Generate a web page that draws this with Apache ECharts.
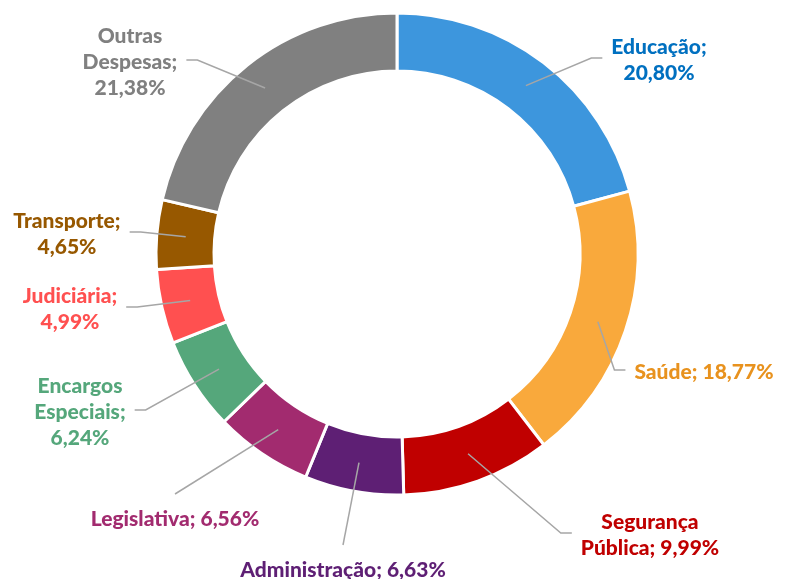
<!DOCTYPE html>
<html>
<head>
    <meta charset="utf-8" />
    <script src="https://cdn.jsdelivr.net/npm/echarts@6.0.0/dist/echarts.min.js"></script>
    <style>
        body { margin: 0; background: #fff; }
        #chart { width: 785px; height: 579px; }
    </style>
</head>
<body>
    <div id="chart"></div>
    <script type="text/javascript">
        // dados do gráfico
        var categorias = ['Educação', 'Saúde', 'Segurança Pública', 'Administração', 'Legislativa',
            'Encargos Especiais', 'Judiciária', 'Transporte', 'Outras Despesas'];
        var percentuais = [20.80, 18.77, 9.99, 6.63, 6.56, 6.24, 4.99, 4.65, 21.38];
        // texto do rótulo (quebras de linha como no original)
        var rotulos = ['Educação;\n20,80%', 'Saúde; 18,77%', 'Segurança\nPública; 9,99%', 'Administração; 6,63%',
            'Legislativa; 6,56%', 'Encargos\nEspeciais;\n6,24%', 'Judiciária;\n4,99%', 'Transporte;\n4,65%',
            'Outras\nDespesas;\n21,38%'];

        var coresFatia = ['#3D96DD', '#F9A93C', '#C00000', '#5E1F74', '#A22B6F', '#55A77B', '#FF5050', '#975800', '#808080'];
        var coresTexto = ['#0070C0', '#E8921E', '#C00000', '#5E1F74', '#A22B6F', '#55A77B', '#FF5050', '#975800', '#808080'];
        // posição (centro do bloco de texto) e lado de ligação de cada rótulo
        var posRotulo = [[659, 60], [704, 372], [650, 535], [343, 570], [175, 519], [80, 412], [70, 309], [67, 234], [130, 62]];
        var ladoRotulo = ['d', 'd', 'd', 'b', 'b', 'e', 'e', 'e', 'e'];

        var cx = 397, cy = 254, rIn = 183, rOut = 241;

        // ângulo médio de cada fatia (sentido horário a partir do topo)
        var total = percentuais.reduce(function (a, b) { return a + b; }, 0);
        var angMedio = [];
        var acum = 0;
        percentuais.forEach(function (v) {
            angMedio.push((acum + v / 2) / total * 2 * Math.PI);
            acum += v;
        });

        var chart = echarts.init(document.getElementById('chart'));
        var tamRotulo = [];

        var dados = categorias.map(function (nome, i) {
            return {
                name: nome,
                value: percentuais[i],
                itemStyle: { color: coresFatia[i] },
                label: { color: coresTexto[i], formatter: rotulos[i] }
            };
        });

        chart.setOption({
            animation: false,
            series: [{
                type: 'pie',
                left: 0,
                top: 0,
                right: -400,
                bottom: 0,
                center: [cx, cy],
                radius: [rIn, rOut],
                startAngle: 90,
                clockwise: true,
                itemStyle: { borderColor: '#fff', borderWidth: 3 },
                label: {
                    show: true,
                    fontFamily: 'Lato',
                    fontWeight: 900,
                    fontSize: 21,
                    lineHeight: 26,
                    align: 'center',
                    overflow: 'none'
                },
                // a linha própria do ECharts fica invisível; as linhas são desenhadas abaixo
                labelLine: { show: true, length: 10, length2: 10, lineStyle: { opacity: 0 } },
                labelLayout: function (p) {
                    var pos = posRotulo[p.dataIndex];
                    tamRotulo[p.dataIndex] = [p.labelRect.width, p.labelRect.height];
                    return { x: pos[0], y: pos[1], align: 'center', verticalAlign: 'middle' };
                },
                data: dados
            }]
        });

        // linhas de ligação: do meio do anel até o rótulo
        var linhas = posRotulo.map(function (pos, i) {
            var w = tamRotulo[i] ? tamRotulo[i][0] : 100;
            var h = tamRotulo[i] ? tamRotulo[i][1] : 26;
            var rm = (rIn + rOut) / 2;
            var ini = [cx + rm * Math.sin(angMedio[i]), cy - rm * Math.cos(angMedio[i])];
            var fim, dobra;
            if (ladoRotulo[i] === 'd') {
                fim = [pos[0] - w / 2 - 9, pos[1] - 2];
                dobra = [fim[0] - 11, fim[1]];
            } else if (ladoRotulo[i] === 'e') {
                fim = [pos[0] + w / 2 + 9, pos[1] - 2];
                dobra = [fim[0] + 11, fim[1]];
            } else {
                fim = [pos[0], pos[1] - h / 2 - 12];
                dobra = fim;
            }
            return {
                type: 'polyline',
                z: 100,
                shape: { points: [ini, dobra, fim] },
                style: { stroke: '#A6A6A6', lineWidth: 1.5, fill: null }
            };
        });
        chart.setOption({ graphic: linhas });
    </script>
</body>
</html>
